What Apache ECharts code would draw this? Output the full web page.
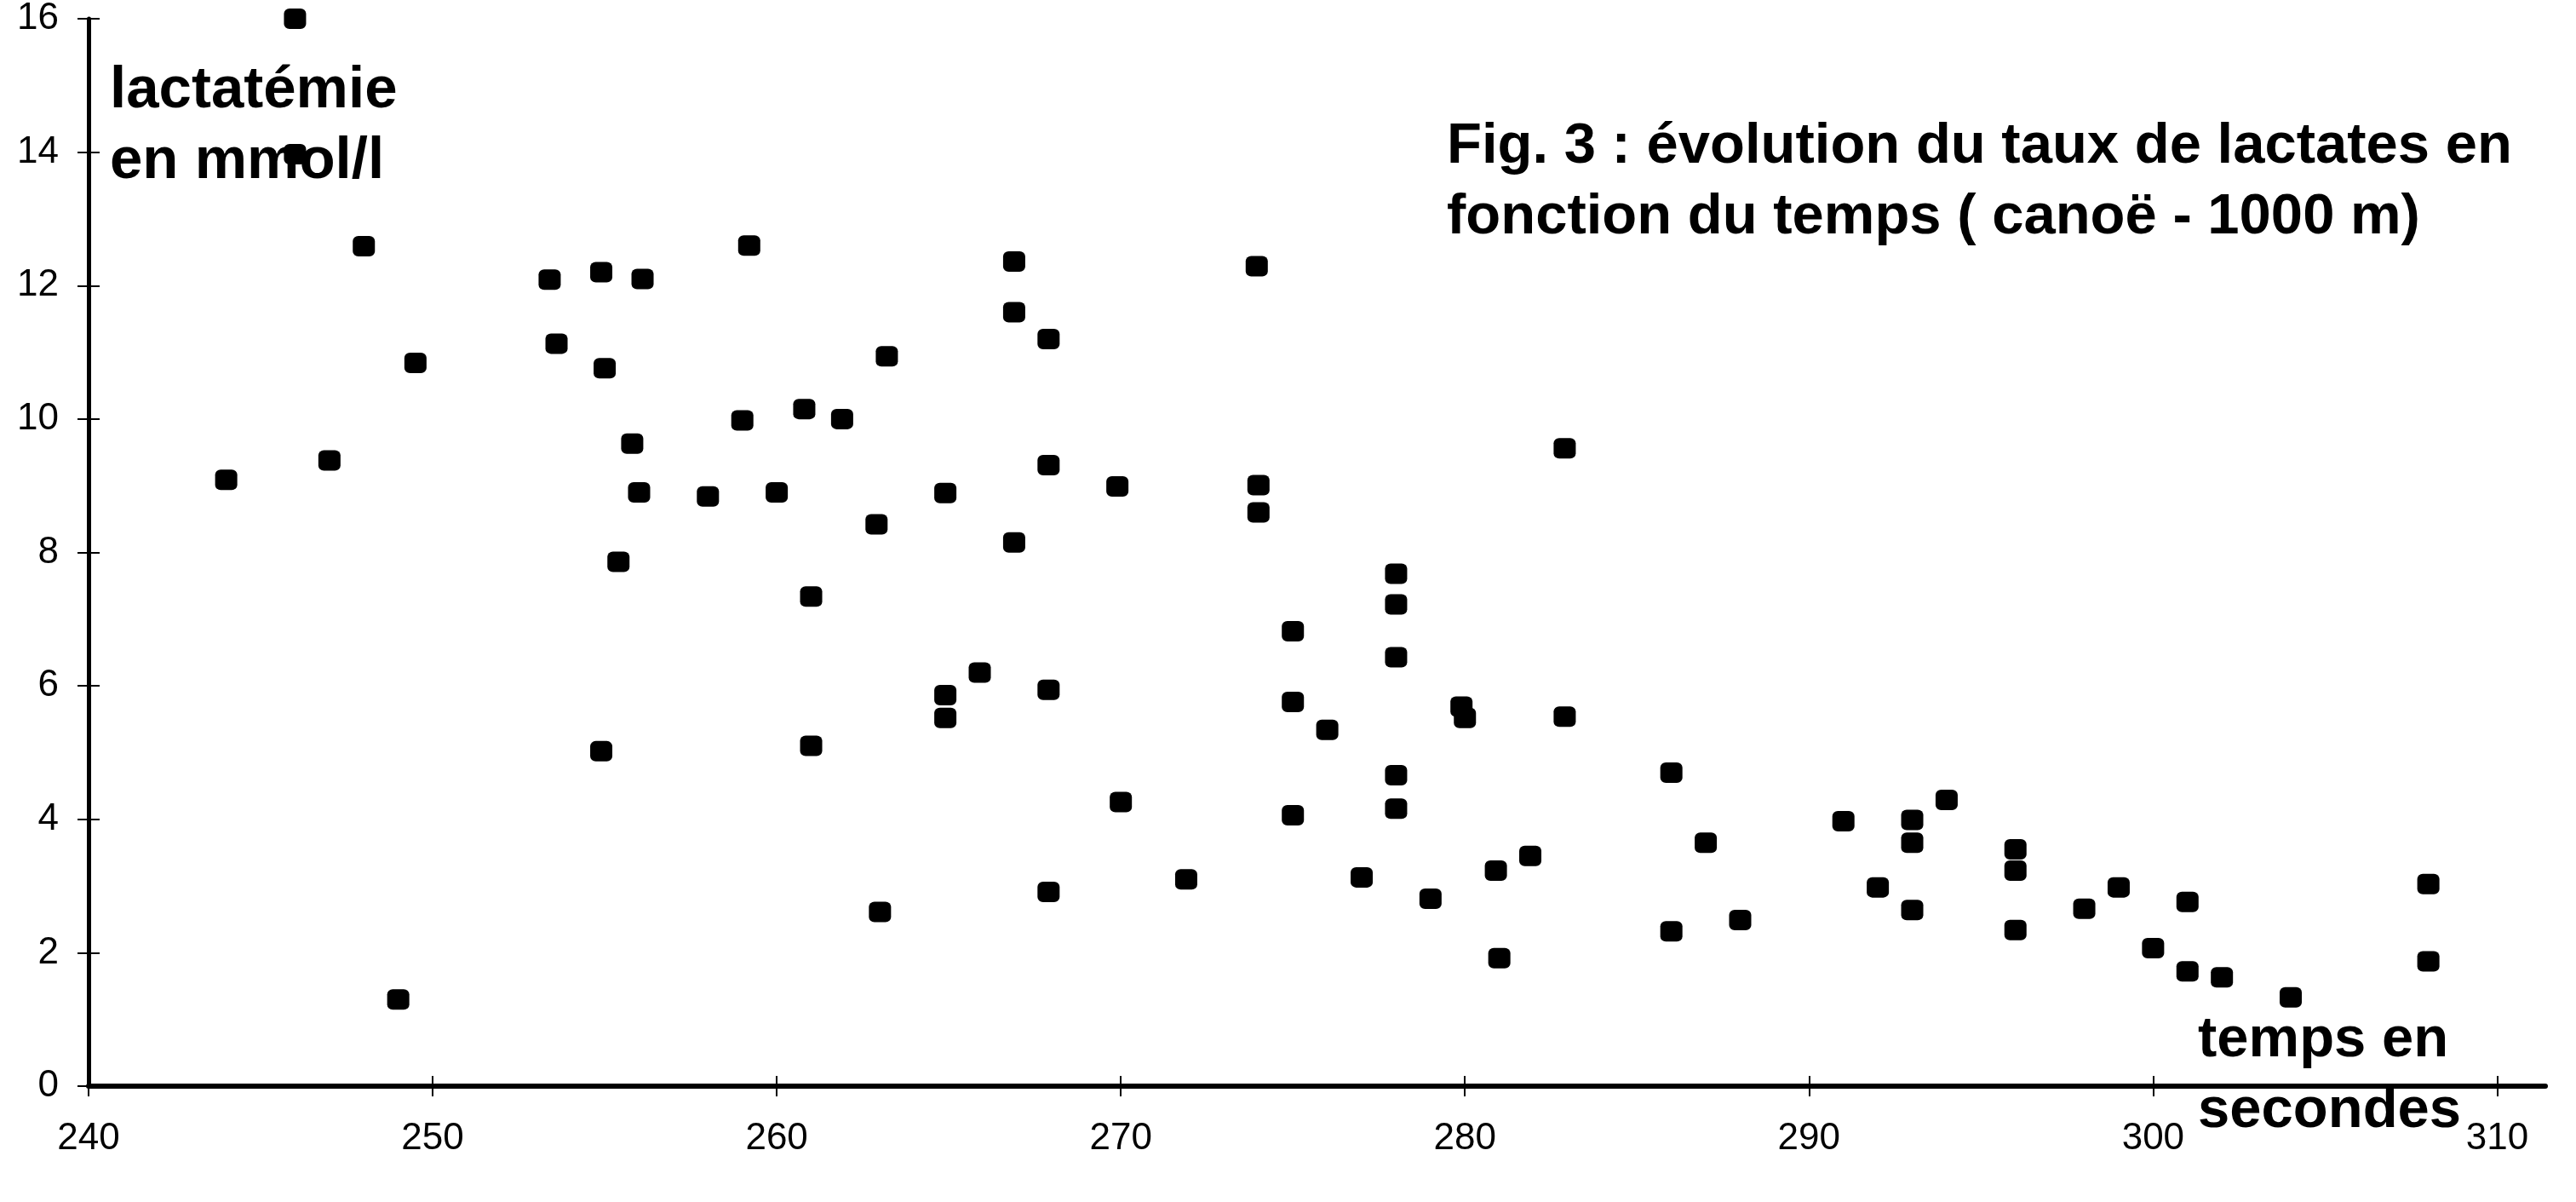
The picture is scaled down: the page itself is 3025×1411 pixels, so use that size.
<!DOCTYPE html>
<html>
<head>
<meta charset="utf-8">
<script src="https://cdn.jsdelivr.net/npm/echarts@6/dist/echarts.min.js"></script>
<style>
html,body{margin:0;padding:0;background:#fff;}
#chart{width:3025px;height:1411px;}
</style>
</head>
<body>
<div id="chart"></div>
<script>
// Data (time in seconds, lactatemia in mmol/l)
const times = [244,246,246,247,248,249,249.5,253.4,253.6,254.9,255,254.9,256.1,255.8,256,255.4,258,259.2,259,260,260.8,261,261,261.9,263.2,262.9,263,264.9,264.9,264.9,265.9,266.9,266.9,266.9,267.9,267.9,267.9,267.9,269.9,270,271.9,273.95,274,274,275,275,275,276,277,278,278,278,278,278,279,279.9,280,280.9,281,281.9,282.9,282.9,286,286,287,288,291,292,293,293,293,294,296,296,296,298,299,300,301,301,302,304,308,308];
const lactates = [9.09,16.0,13.97,9.38,12.59,1.3,10.84,12.09,11.13,12.2,10.76,5.02,12.1,9.63,8.9,7.86,8.84,12.6,9.98,8.9,10.15,7.34,5.1,10.0,10.94,8.42,2.61,8.89,5.86,5.52,6.2,12.36,11.6,8.15,11.2,9.31,5.94,2.91,8.99,4.26,3.1,12.29,9.01,8.6,6.82,5.76,4.06,5.34,3.13,7.68,7.22,6.43,4.66,4.16,2.81,5.69,5.52,3.23,1.92,3.45,9.56,5.54,4.7,2.32,3.65,2.49,3.97,2.98,3.99,3.65,2.64,4.29,3.55,3.23,2.34,2.66,2.98,2.07,2.76,1.72,1.63,1.33,3.03,1.87];
const xTicks = [240,250,260,270,280,290,300,310];
const yTicks = [0,2,4,6,8,10,12,14,16];
const titleText = 'Fig. 3 : évolution du taux de lactates en\nfonction du temps ( canoë - 1000 m)';
const yName = 'lactatémie\nen mmol/l';
const xName = 'temps en\nsecondes';

const FONT = '"Liberation Sans", Arial, sans-serif';
const points = times.map((t, i) => [t, lactates[i]]);

const chart = echarts.init(document.getElementById('chart'), null, {renderer: 'canvas'});
const xMin = 240, xMax = 311.4;
const tickLab = {show: true, fontFamily: FONT, fontSize: 44, color: '#000'};
chart.setOption({
  animation: false,
  backgroundColor: '#fff',
  title: {
    text: titleText, left: 1699, top: 131, padding: 0,
    textStyle: {fontFamily: FONT, fontWeight: 'bold', fontSize: 67, lineHeight: 83, color: '#000'}
  },
  grid: {left: 104, right: 36, top: 21, bottom: 136, containLabel: false},
  xAxis: [{
    type: 'value', min: xMin, max: xMax, interval: 10,
    axisLine: {show: true, onZero: false, lineStyle: {color: '#000', width: 6}},
    axisTick: {show: true, customValues: xTicks, length: 12, lineStyle: {color: '#000', width: 2}},
    axisLabel: Object.assign({customValues: xTicks, margin: 40}, tickLab),
    splitLine: {show: false}
  }, {
    type: 'value', min: xMin, max: xMax, interval: 10, position: 'bottom',
    axisLine: {show: false},
    axisTick: {show: true, inside: true, customValues: xTicks, length: 12, lineStyle: {color: '#000', width: 2}},
    axisLabel: {show: false}, splitLine: {show: false}
  }],
  yAxis: [{
    type: 'value', min: 0, max: 16, interval: 2,
    axisLine: {show: true, onZero: false, lineStyle: {color: '#000', width: 5}},
    axisTick: {show: true, customValues: yTicks, length: 13, lineStyle: {color: '#000', width: 2}},
    axisLabel: Object.assign({customValues: yTicks, margin: 35}, tickLab),
    splitLine: {show: false}
  }, {
    type: 'value', min: 0, max: 16, interval: 2, position: 'left',
    axisLine: {show: false},
    axisTick: {show: true, inside: true, customValues: yTicks, length: 13, lineStyle: {color: '#000', width: 2}},
    axisLabel: {show: false}, splitLine: {show: false}
  }],
  graphic: {elements: [
    {type: 'text', left: 129, top: 65, z: -1,
     style: {text: yName, font: 'bold 69px ' + FONT, lineHeight: 83, fill: '#000'}},
    {type: 'text', left: 2581, top: 1180, z: -1,
     style: {text: xName, font: 'bold 67px ' + FONT, lineHeight: 83, fill: '#000'}}
  ]},
  series: [{
    type: 'scatter', xAxisIndex: 0, yAxisIndex: 0, z: 5,
    symbol: 'roundRect', symbolSize: [26, 24],
    itemStyle: {color: '#000', opacity: 1},
    data: points
  }]
});
</script>
</body>
</html>
